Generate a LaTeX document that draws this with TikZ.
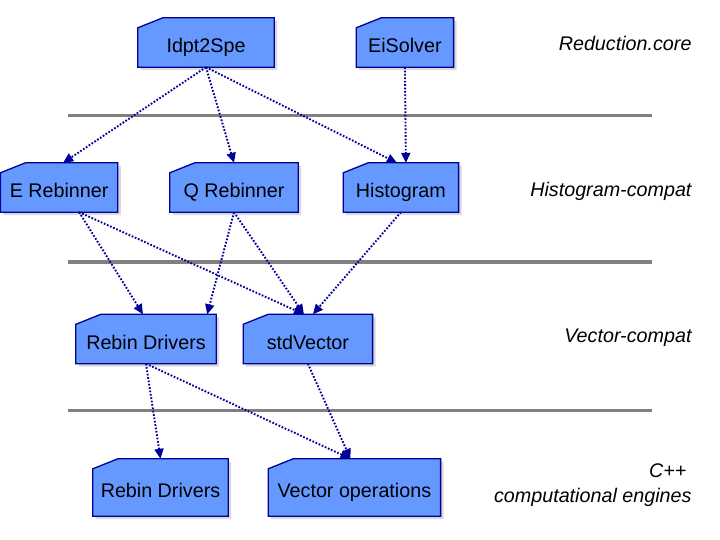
\documentclass[tikz,border=0pt]{standalone}
\usepackage{fontspec}
\setmainfont{Liberation Sans}
\usetikzlibrary{arrows.meta,positioning,shadows,backgrounds}
\usepackage{xcolor}
\definecolor{boxblue}{RGB}{102, 153, 255}
\definecolor{navy}{RGB}{0, 0, 153}
\definecolor{rule}{RGB}{128, 128, 128}

\tikzset{
    module/.style={
        inner sep=0pt,
        minimum height=49bp,
        text height=20bp,
        text depth=0pt,
        font=\fontsize{19.8}{23}\selectfont
    },
    folder/.style={
        fill=boxblue,
        draw=navy,
        line width=1.3bp,
        drop shadow={shadow xshift=3bp, shadow yshift=-3bp, opacity=0.3}
    },
    uses/.style={
        draw=navy,
        line width=1.9bp,
        dash pattern=on 1.7bp off 1.7bp,
        -{Triangle[length=10bp, width=9bp]}
    },
    layer/.style={
        font=\fontsize{19.8}{25}\selectfont\itshape,
        anchor=east,
        align=right
    },
    tier/.style={draw=rule, line width=3bp}
}

\begin{document}
\begin{tikzpicture}[x=1bp, y=-1bp]
        \useasboundingbox (0,0) rectangle (720,540);

        % layer separators
        \draw[tier] (68,116) -- (652,116);
        \draw[tier] (68,262) -- (652,262);
        \draw[tier] (68,410) -- (652,410);

        \node (1) [module, minimum width=136bp] at (206,42.5) {Idpt2Spe};
        \node (2) [module, minimum width=97bp, right=82bp of 1] {EiSolver};
        \node (3) [module, minimum width=117bp] at (59.1,187.5) {E Rebinner};
        \node (4) [module, minimum width=128bp, right=52bp of 3] {Q Rebinner};
        \node (5) [module, minimum width=115bp, right=45bp of 4] {Histogram};
        \node (6) [module, minimum width=140bp] at (146,339) {Rebin Drivers};
        \node (7) [module, minimum width=129bp, right=27bp of 6] {stdVector};
        \node (8) [module, minimum width=135bp, minimum height=57bp] at (160.5,487.5) {Rebin Drivers};
        \node (9) [module, minimum width=172bp, minimum height=57bp, right=40bp of 8] {Vector operations};

        \begin{pgfonlayer}{background}
            \foreach \n in {1,...,9}
                \path[folder] (\n.south west) -- ([yshift=-10bp]\n.north west)
                    -- ([xshift=25bp]\n.north west) -- (\n.north east)
                    -- (\n.south east) -- cycle;
        \end{pgfonlayer}

        \node (r1) [layer] at (695,43) {Reduction.core};
        \node (r2) [layer] at (695,191) {Histogram-compat};
        \node (r3) [layer] at (695,338) {Vector-compat};
        \node (r4) [layer] at (695,485) {C++\hspace*{5bp}\\computational engines};

        \draw[uses] (1.south) -- ([xshift=4bp]3.north);
        \draw[uses] (1.south) -- (4.north);
        \draw[uses] (1.south) -- ([xshift=-4bp]5.north);
        \draw[uses] (2.south) -- ([xshift=5bp]5.north);
        \draw[uses] ([xshift=20bp]3.south) -- ([xshift=-3bp]6.north);
        \draw[uses] ([xshift=20bp]3.south) -- ([xshift=-4bp]7.north);
        \draw[uses] (4.south) -- ([xshift=-9bp]6.north east);
        \draw[uses] (4.south) -- ([xshift=-4bp]7.north);
        \draw[uses] (5.south) -- ([xshift=5bp]7.north);
        \draw[uses] (6.south) -- (8.north);
        \draw[uses] (6.south) -- ([xshift=-4bp]9.north);
        \draw[uses] (7.south) -- ([xshift=-4bp]9.north);
    \end{tikzpicture}
\end{document}
